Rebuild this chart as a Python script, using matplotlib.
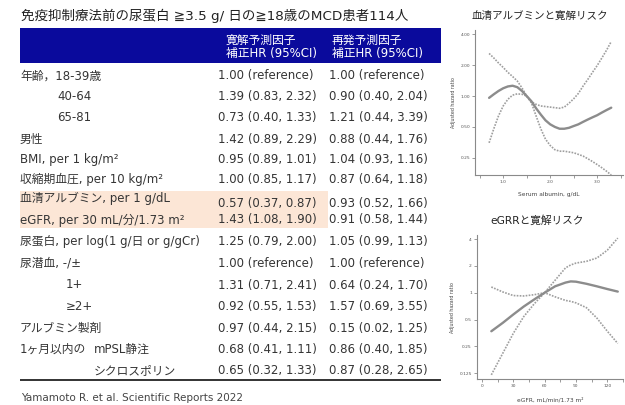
import matplotlib
matplotlib.use("Agg")
import matplotlib.pyplot as plt
from matplotlib.patches import Rectangle
from matplotlib.ticker import FixedLocator, NullLocator

plt.rcParams['font.family'] = ['DejaVu Sans', 'Noto Sans CJK JP']

# ---- table data ----
title = "免疫抑制療法前の尿蛋白 ≧3.5 g/ 日の≧18歳のMCD患者114人"
col_headers = ["寛解予測因子\n補正HR (95%CI)", "再発予測因子\n補正HR (95%CI)"]
row_labels = ["年齢，18-39歳", "40-64", "65-81", "男性", "BMI, per 1 kg/m²",
              "収縮期血圧, per 10 kg/m²", "血清アルブミン, per 1 g/dL",
              "eGFR, per 30 mL/分/1.73 m²", "尿蛋白, per log(1 g/日 or g/gCr)",
              "尿潜血, -/±", "1+", "≥2+", "アルブミン製剤", "mPSL静注", "シクロスポリン"]
group_prefix = "1ヶ月以内の"
remission_hr = [None, 1.39, 0.73, 1.42, 0.95, 1.00, 0.57, 1.43, 1.25, None, 1.31, 0.92, 0.97, 0.68, 0.65]
remission_lo = [None, 0.83, 0.40, 0.89, 0.89, 0.85, 0.37, 1.08, 0.79, None, 0.71, 0.55, 0.44, 0.41, 0.32]
remission_hi = [None, 2.32, 1.33, 2.29, 1.01, 1.17, 0.87, 1.90, 2.00, None, 2.41, 1.53, 2.15, 1.11, 1.33]
relapse_hr = [None, 0.90, 1.21, 0.88, 1.04, 0.87, 0.93, 0.91, 1.05, None, 0.64, 1.57, 0.15, 0.86, 0.87]
relapse_lo = [None, 0.40, 0.44, 0.44, 0.93, 0.64, 0.52, 0.58, 0.99, None, 0.24, 0.69, 0.02, 0.40, 0.28]
relapse_hi = [None, 2.04, 3.39, 1.76, 1.16, 1.18, 1.66, 1.44, 1.13, None, 1.70, 3.55, 1.25, 1.85, 2.65]
citation = "Yamamoto R. et al. Scientific Reports 2022"

# ---- spline curves: serum albumin ----
alb_title = "血清アルブミンと寛解リスク"
alb_x = [0.7, 0.8, 0.9, 1.0, 1.1, 1.2, 1.3, 1.4, 1.5, 1.6, 1.7, 1.8, 1.9, 2.0,
         2.1, 2.2, 2.3, 2.4, 2.5, 2.6, 2.7, 2.8, 2.9, 3.0, 3.1, 3.2, 3.3]
alb_hr = [0.96, 1.04, 1.12, 1.19, 1.24, 1.26, 1.22, 1.12, 1.00, 0.89, 0.76, 0.66, 0.58, 0.53,
          0.50, 0.48, 0.48, 0.49, 0.51, 0.53, 0.56, 0.59, 0.62, 0.65, 0.69, 0.73, 0.77]
alb_upper = [2.60, 2.35, 2.10, 1.90, 1.70, 1.55, 1.40, 1.20, 1.00, 0.88, 0.83, 0.80, 0.79, 0.78,
             0.77, 0.76, 0.78, 0.85, 0.94, 1.06, 1.25, 1.45, 1.70, 1.98, 2.35, 2.80, 3.40]
alb_lower = [0.35, 0.48, 0.64, 0.80, 0.93, 1.02, 1.05, 1.04, 1.00, 0.86, 0.64, 0.48, 0.38, 0.33,
             0.30, 0.29, 0.29, 0.285, 0.28, 0.27, 0.26, 0.245, 0.23, 0.215, 0.20, 0.185, 0.17]

# ---- spline curves: eGFR ----
egfr_title = "eGRRと寛解リスク"
egfr_x = [9, 20, 30, 40, 50, 60, 70, 80, 85, 90, 100, 110, 120, 130]
egfr_hr = [0.37, 0.46, 0.57, 0.70, 0.84, 1.00, 1.18, 1.30, 1.34, 1.33, 1.26, 1.18, 1.10, 1.03]
egfr_ci_a = [0.12, 0.21, 0.35, 0.54, 0.75, 1.00, 1.38, 1.90, 2.05, 2.15, 2.25, 2.45, 3.00, 4.10]
egfr_ci_b = [1.16, 1.02, 0.93, 0.92, 0.95, 1.00, 0.90, 0.82, 0.80, 0.77, 0.68, 0.52, 0.37, 0.27]

W, H = 625, 405
fig = plt.figure(figsize=(W / 100, H / 100), dpi=100)
bg = fig.add_axes([0, 0, 1, 1])
bg.set_xlim(0, W)
bg.set_ylim(H, 0)
bg.axis("off")

text_col = "#353535"
bg.text(21, 16, title, fontsize=9.7, color="#222222", va="center", ha="left")

# header band
bg.add_patch(Rectangle((20, 28), 421, 35, facecolor="#0a0a9c", edgecolor="none"))
bg.text(226, 46.5, col_headers[0], fontsize=8.5, color="white", va="center", ha="left", linespacing=1.0)
bg.text(332, 46.5, col_headers[1], fontsize=8.5, color="white", va="center", ha="left", linespacing=1.0)

# highlighted rows
bg.add_patch(Rectangle((20, 191), 308, 37, facecolor="#fce6d6", edgecolor="none"))

label_x = [20, 57, 57, 20, 20, 20, 20, 20, 20, 20, 66, 66, 20, 94, 94]
label_y = [75.7, 96.7, 117.3, 139, 159, 179, 198.5, 220, 241.7, 263.3, 285, 306.7, 328.3, 349.3, 370.7]
value_y = [75.7, 96.7, 117.3, 139, 159, 179, 203.5, 220, 241.7, 263.3, 285, 306.7, 328.3, 349.3, 370.7]


def fmt(hr, lo, hi):
    if hr is None:
        return "1.00 (reference)"
    return f"{hr:.2f} ({lo:.2f}, {hi:.2f})"


fs = 8.5
for i, lab in enumerate(row_labels):
    bg.text(label_x[i], label_y[i], lab, fontsize=fs, color=text_col, va="center", ha="left")
    bg.text(218, value_y[i], fmt(remission_hr[i], remission_lo[i], remission_hi[i]),
            fontsize=fs, color=text_col, va="center", ha="left")
    bg.text(329, value_y[i], fmt(relapse_hr[i], relapse_lo[i], relapse_hi[i]),
            fontsize=fs, color=text_col, va="center", ha="left")
bg.text(20, label_y[13], group_prefix, fontsize=fs, color=text_col, va="center", ha="left")

bg.plot([20, 441], [380, 380], color="#333333", lw=1.4, solid_capstyle="butt")
bg.text(21, 398, citation, fontsize=7.5, color="#444444", va="center", ha="left")


def style_axes(ax):
    for s in ("top", "right"):
        ax.spines[s].set_visible(False)
    for s in ("left", "bottom"):
        ax.spines[s].set_color("#8a8a8a")
        ax.spines[s].set_linewidth(0.8)
    ax.tick_params(axis="both", which="both", colors="#8a8a8a", labelcolor="#555555",
                   labelsize=3.2, length=2, width=0.6, pad=1.5)
    ax.yaxis.set_minor_locator(NullLocator())
    ax.set_facecolor("none")


solid = dict(color="#8c8c8c", lw=1.7, solid_capstyle="round")
dotted = dict(color="#9e9e9e", lw=1.2, linestyle=(0, (1, 0.8)))

# albumin panel
ax1 = fig.add_axes([475 / W, 1 - 175 / H, 148 / W, 145 / H])
ax1.set_yscale("log", base=2)
ax1.plot(alb_x, alb_upper, **dotted)
ax1.plot(alb_x, alb_lower, **dotted)
ax1.plot(alb_x, alb_hr, **solid)
ax1.set_xlim(0.40, 3.55)
ax1.set_ylim(0.17, 4.4)
ax1.set_yticks([4, 2, 1, 0.5, 0.25])
ax1.set_yticklabels(["4.00", "2.00", "1.00", "0.50", "0.25"])
ax1.set_xticks([1, 2, 3])
ax1.set_xticklabels(["1.0", "2.0", "3.0"])
ax1.xaxis.set_minor_locator(FixedLocator([0.5, 1.5, 2.5, 3.5]))
style_axes(ax1)
ax1.set_xlabel("Serum albumin, g/dL", fontsize=4.2, color="#444444", labelpad=6)
ax1.set_ylabel("Adjusted hazard ratio", fontsize=3.4, color="#444444", labelpad=3)
bg.text(540, 16, alb_title, fontsize=7.6, color="#222222", va="center", ha="center")

# eGFR panel
ax2 = fig.add_axes([476.7 / W, 1 - 379.3 / H, 146.3 / W, 144.3 / H])
ax2.set_yscale("log", base=2)
ax2.plot(egfr_x, egfr_ci_a, **dotted)
ax2.plot(egfr_x, egfr_ci_b, **dotted)
ax2.plot(egfr_x, egfr_hr, **solid)
ax2.set_xlim(-5, 135)
ax2.set_ylim(0.107, 4.44)
ax2.set_yticks([4, 2, 1, 0.5, 0.25, 0.125])
ax2.set_yticklabels(["4", "2", "1", "0.5", "0.25", "0.125"])
ax2.set_xticks([0, 30, 60, 90, 120])
ax2.set_xticklabels(["0", "30", "60", "90", "120"])
ax2.xaxis.set_minor_locator(FixedLocator([15, 45, 75, 105, 135]))
style_axes(ax2)
ax2.set_xlabel("eGFR, mL/min/1.73 m²", fontsize=4.2, color="#444444", labelpad=6.5)
ax2.set_ylabel("Adjusted hazard ratio", fontsize=3.4, color="#444444", labelpad=3)
bg.text(537, 221, egfr_title, fontsize=7.7, color="#222222", va="center", ha="center")

fig.savefig("out.png", dpi=100)
